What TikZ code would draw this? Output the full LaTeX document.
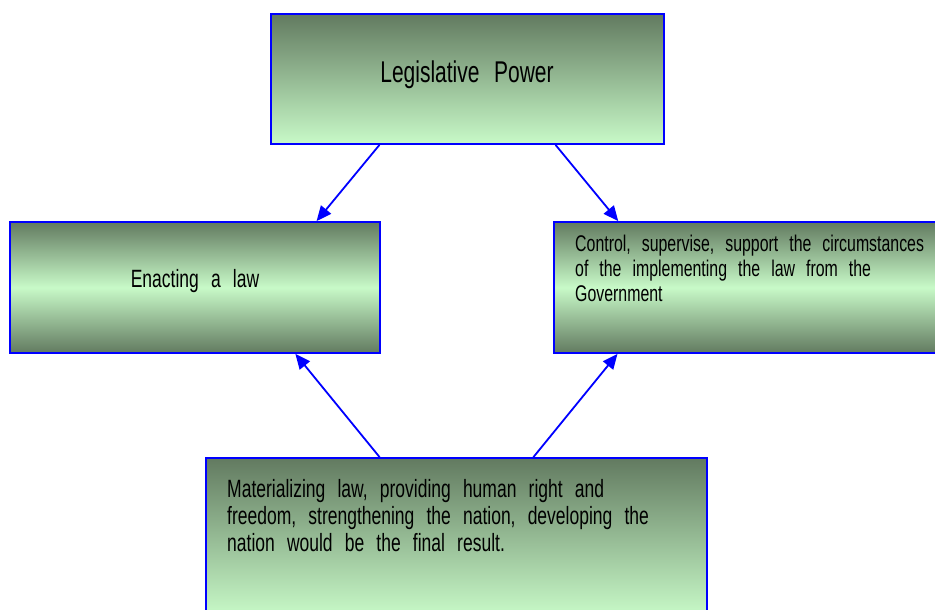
\documentclass[tikz,border=0pt]{standalone}
\usepackage{fontspec}
\setmainfont{Liberation Sans}[FakeStretch=0.70, WordSpace=2.5]
\usetikzlibrary{arrows.meta,calc}
\definecolor{boxdark}{RGB}{98,122,96}
\definecolor{boxlight}{RGB}{200,250,200}
\definecolor{edgeblue}{RGB}{0,0,255}
\begin{document}
\begin{tikzpicture}[x=1pt,y=-1pt,
  box/.style={draw=edgeblue, line width=1.8pt, rectangle, inner sep=0pt},
  fadedown/.style={box, top color=boxdark, bottom color=boxlight},
  fademid/.style={box, top color=boxdark, bottom color=boxdark, middle color=boxlight},
  link/.style={draw=edgeblue, line width=1.8pt, -{Triangle[length=15pt,width=13pt]}},
  txt/.style={inner sep=0pt, text=black, align=left}]
  % canvas
  \useasboundingbox (0,0) rectangle (935,610);
  \clip (0,0) rectangle (935,610);

  % boxes
  \node[fadedown, minimum width=393pt, minimum height=130pt] (power) at (467.5,79) {};
  \node[fademid, minimum width=370pt, minimum height=131pt] (enact) at (195,287.5) {};
  \node[fademid, minimum width=386pt, minimum height=131pt] (control) at (747,287.5) {};
  \node[fadedown, minimum width=501pt, minimum height=158pt] (result) at (456.5,537) {};

  % labels (multi-line ones are anchored on the baseline of their last line)
  \node[txt, anchor=base, font=\fontsize{30}{33}\selectfont] (powertext) at (467,82)
    {Legislative Power};
  \node[txt, anchor=base, font=\fontsize{25}{28}\selectfont] (enacttext) at (195,287)
    {Enacting a law};
  \node[txt, anchor=base west, font=\fontsize{22.7}{24.7}\selectfont] (controltext) at (575,301)
    {Control, supervise, support the circumstances\\
     of the implementing the law from the\\
     Government};
  \node[txt, anchor=base west, font=\fontsize{25}{27}\selectfont] (resulttext) at (227,551)
    {Materializing law, providing human right and\\
     freedom, strengthening the nation, developing the\\
     nation would be the final result.};

  % connectors
  \draw[link] ($(power.south west)!0.277!(power.south east)$)
           -- ($(enact.north west)!0.827!(enact.north east)$);
  \draw[link] ($(power.south west)!0.723!(power.south east)$)
           -- ($(control.north west)!0.168!(control.north east)$);
  \draw[link] ($(result.north west)!0.347!(result.north east)$)
           -- ($(enact.south west)!0.770!(enact.south east)$);
  \draw[link] ($(result.north west)!0.653!(result.north east)$)
           -- ($(control.south west)!0.166!(control.south east)$);
\end{tikzpicture}
\end{document}
